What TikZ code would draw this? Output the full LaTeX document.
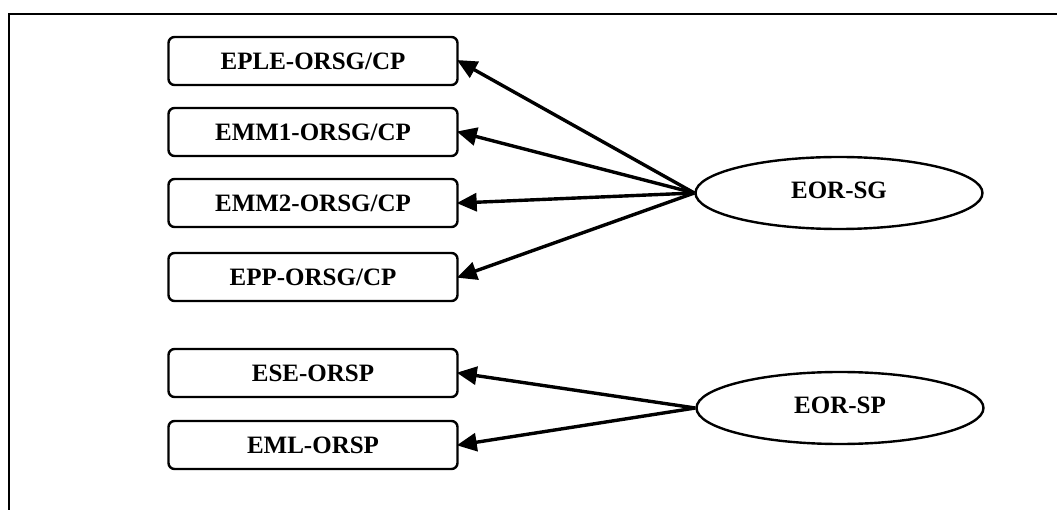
\documentclass[tikz,border=0pt]{standalone}
\usepackage{fontspec}
\setmainfont{Liberation Serif}
\usetikzlibrary{shapes.geometric,arrows.meta}
\begin{document}
\begin{tikzpicture}[x=1pt,y=-1pt,
  framebox/.style={draw,line width=2.4pt,rounded corners=6pt,minimum width=289pt,minimum height=48pt,inner sep=0pt,font=\bfseries\fontsize{25}{29}\selectfont},
  oval/.style={draw,ellipse,line width=2.4pt,minimum width=287pt,minimum height=72pt,inner sep=0pt,font=\bfseries\fontsize{25}{29}\selectfont},
  link/.style={line width=3.4pt,-{Triangle[length=20pt,width=18pt]},shorten >=-2pt}]
  \useasboundingbox (0,0) rectangle (1057,510);
  % outer frame: top and left edges only
  \draw[line width=1.4pt] (1057,14) -- (9,14) -- (9,510);

  % goal boxes
  \node[framebox] (eple) at (313,61)  {EPLE-ORSG/CP};
  \node[framebox] (emm1) at (313,132) {EMM1-ORSG/CP};
  \node[framebox] (emm2) at (313,203) {EMM2-ORSG/CP};
  \node[framebox] (epp)  at (313,277) {EPP-ORSG/CP};
  \node[framebox] (ese)  at (313,373) {ESE-ORSP};
  \node[framebox] (eml)  at (313,445) {EML-ORSP};

  % sources
  \node[oval] (sg) at (839,193) {\raisebox{6pt}{EOR-SG}};
  \node[oval] (sp) at (840,408) {\raisebox{6pt}{EOR-SP}};

  % connectors
  \draw[link] (sg.west) -- (eple.east);
  \draw[link] (sg.west) -- (emm1.east);
  \draw[link] (sg.west) -- (emm2.east);
  \draw[link] (sg.west) -- (epp.east);
  \draw[link] (sp.west) -- (ese.east);
  \draw[link] (sp.west) -- (eml.east);
\end{tikzpicture}
\end{document}
